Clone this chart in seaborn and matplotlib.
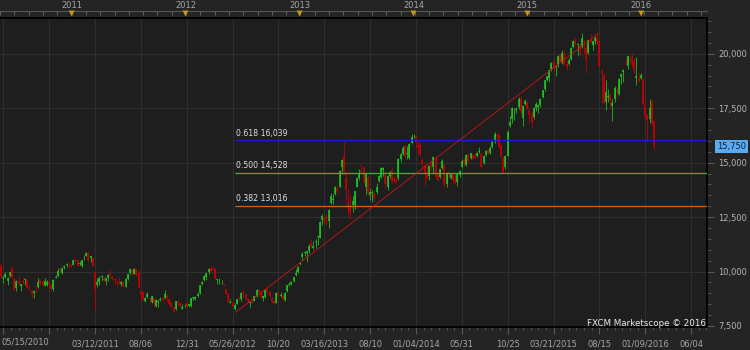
import numpy as np
import pandas as pd
import matplotlib
matplotlib.use("Agg")
import matplotlib.pyplot as plt
import seaborn as sns
from matplotlib.transforms import blended_transform_factory
from matplotlib.ticker import FixedLocator, MultipleLocator, FuncFormatter

# ---------------- data (weekly candles, week start dates) ----------------
start_date = "2010-05-15"

opens = [
    # 2010
    10300, 9700, 9760, 9550, 9800, 10150, 9650, 9250, 9550, 9350, 9550, 9600, 9600, 9200, 9100, 9000, 9250,
    9300, 9600, 9500, 9350, 9400, 9500, 9380, 9200, 9700, 9800, 10100, 9950, 10200, 10300, 10300, 10300,
    # 2011
    10300, 10500, 10550, 10350, 10250, 10600, 10700, 10850, 10600, 10600, 10000, 9400, 9500, 9750, 9700, 9550,
    9700, 9900, 9800, 9650, 9550, 9500, 9450, 9500, 9300, 9650, 9950, 10050, 9900, 10100, 9950, 9100, 9050,
    8650, 8850, 8800, 8600, 8800, 8400, 8600, 8700, 8800, 8800, 8900, 8750, 8600, 8350, 8300, 8600, 8550, 8300, 8450,
    # 2012
    8550, 8400, 8400, 8800, 8750, 8900, 9000, 9450, 9600, 9750, 10000, 10150, 10100, 10100, 9600, 9550, 9500,
    9400, 9200, 8950, 8550, 8550, 8300, 8500, 8800, 8750, 9050, 8950, 8750, 8550, 8650, 8650, 8900, 9150, 9050,
    8800, 8850, 9200, 9050, 8800, 8650, 8550, 9000, 8900, 8900, 8700, 9100, 9400, 9450, 9550, 9850, 10000, 10350,
    # 2013
    10650, 10850, 10850, 10950, 11250, 11100, 11350, 11600, 11550, 12350, 12400, 12500, 12300, 13150, 13300,
    13550, 13800, 13900, 14800, 15300, 14300, 13200, 13000, 13050, 13050, 13900, 14300, 14600, 14800, 13900,
    14300, 13500, 13600, 13600, 13650, 14150, 14350, 14650, 14450, 13900, 14400, 14650, 14300, 14200, 14300,
    15150, 15400, 15750, 15400, 15200, 15900, 16250,
    # 2014
    16200, 15800, 15800, 15100, 14900, 14450, 14400, 14900, 14800, 15200, 14450, 14350, 14750, 14900, 14000,
    14500, 14300, 14450, 14250, 14100, 14450, 14800, 15100, 14900, 15350, 15200, 15350, 15300, 15300, 15500,
    15400, 15000, 15350, 15600, 15450, 15700, 16000, 16250, 16250, 15750, 15200, 14800, 15300, 16700, 17000,
    17350, 17400, 17550, 17900, 17050, 17700, 17800,
    # 2015
    17400, 17300, 17100, 17500, 17550, 17650, 18000, 18400, 18800, 18900, 19300, 19600, 19400, 19500, 19950,
    19600, 20000, 19550, 19550, 19750, 20300, 20600, 20400, 20350, 20300, 20600, 20250, 20050, 20650, 20400,
    20600, 20700, 20600, 19200, 19000, 17800, 18000, 18100, 17600, 17900, 18300, 18150, 18950, 19150, 19600,
    19450, 19900, 19800, 19600, 18900, 18900, 18900,
    # 2016
    18800, 17600, 17200, 17000, 17800, 16900,
]

highs = [
    # 2010
    10330, 9800, 9960, 9750, 10000, 10250, 9700, 9600, 9800, 9450, 9700, 9700, 9650, 9400, 9150, 9150, 9300,
    9700, 9650, 9600, 9700, 9600, 9550, 9450, 9650, 9850, 10150, 10150, 10200, 10300, 10400, 10400, 10350,
    # 2011
    10550, 10600, 10550, 10500, 10550, 10750, 10900, 10880, 10700, 10600, 10000, 9700, 9800, 9850, 9800, 9700,
    9900, 10050, 9850, 9700, 9600, 9750, 9550, 9550, 9700, 9900, 10150, 10050, 10150, 10100, 10050, 9100, 9100,
    8850, 9050, 8800, 8900, 8800, 8750, 8700, 8850, 8850, 9150, 8950, 8800, 8600, 8400, 8650, 8700, 8600, 8500, 8500,
    # 2012
    8600, 8500, 8800, 8850, 8900, 9050, 9400, 9550, 9850, 9950, 10150, 10255, 10250, 10150, 9650, 9700, 9600,
    9450, 9200, 9000, 8750, 8650, 8550, 8750, 8850, 9050, 9150, 8950, 8800, 8600, 8700, 8900, 9200, 9200, 9100,
    8900, 9200, 9250, 9100, 8850, 8700, 9050, 9050, 9050, 8950, 9050, 9400, 9500, 9550, 9750, 10100, 10250, 10450,
    # 2013
    10900, 10950, 10950, 11250, 11500, 11400, 11500, 11650, 12300, 12650, 12600, 12650, 12850, 13600, 13550,
    13950, 13950, 14650, 15150, 15950, 14600, 13800, 13500, 13450, 13700, 14350, 14700, 14950, 14800, 14500,
    14400, 13850, 13750, 13650, 14050, 14450, 14800, 14800, 14600, 14450, 14600, 14800, 14400, 14350, 15200,
    15450, 15750, 15800, 15750, 15900, 16300, 16320,
    # 2014
    16200, 16000, 15950, 15200, 14950, 14850, 14900, 15100, 15300, 15300, 14550, 14700, 15150, 14950, 14550,
    14650, 14500, 14550, 14500, 14500, 14650, 15150, 15200, 15400, 15450, 15450, 15400, 15450, 15500, 15700,
    15500, 15350, 15600, 15600, 15750, 16000, 16400, 16350, 16350, 15850, 15300, 15350, 16500, 17150, 17550,
    17500, 17550, 18000, 18050, 17650, 17900, 17850,
    # 2015
    17400, 17350, 17550, 17800, 17700, 17950, 18350, 18800, 19000, 19300, 19600, 19800, 19500, 19950, 20050,
    20150, 20150, 19700, 19800, 20300, 20650, 20700, 20500, 20500, 20952, 20650, 20450, 20650, 20900, 20600,
    20800, 20946, 20650, 19300, 19100, 18800, 18400, 18200, 17900, 18500, 18450, 18900, 19100, 19300, 19800,
    19900, 20000, 20050, 19800, 19870, 19100, 19100,
    # 2016
    18950, 17900, 17250, 17900, 17900, 16900,
]

lows = [
    # 2010
    9700, 9460, 9700, 9380, 9750, 9700, 9100, 9100, 9400, 9100, 9450, 9400, 9250, 9100, 8800, 8800, 9050,
    9250, 9400, 9350, 9350, 9350, 9300, 9120, 9100, 9700, 9750, 9950, 9900, 10100, 10200, 10200, 10200,
    # 2011
    10300, 10450, 10250, 10300, 10200, 10550, 10700, 10450, 10450, 10250, 8227, 9300, 9400, 9550, 9500, 9400,
    9550, 9850, 9600, 9450, 9350, 9450, 9350, 9300, 9300, 9600, 9900, 9850, 9900, 9800, 9250, 8650, 8700,
    8600, 8800, 8550, 8550, 8350, 8350, 8350, 8650, 8600, 8750, 8600, 8450, 8350, 8150, 8250, 8450, 8350, 8300, 8350,
    # 2012
    8350, 8350, 8350, 8700, 8700, 8850, 8950, 9400, 9550, 9600, 9900, 10000, 10050, 9650, 9450, 9450, 9450,
    9350, 8950, 8600, 8550, 8400, 8238, 8500, 8650, 8650, 8850, 8700, 8600, 8350, 8550, 8650, 8850, 9050, 8800,
    8650, 8800, 8950, 8850, 8550, 8500, 8550, 8900, 8850, 8650, 8650, 9050, 9350, 9400, 9500, 9800, 9950, 10300,
    # 2013
    10550, 10700, 10450, 10850, 11100, 11050, 11100, 11200, 11550, 12150, 12200, 12150, 12000, 13100, 13100,
    13500, 13600, 13900, 14500, 14450, 13250, 12550, 12400, 12750, 12850, 13900, 14200, 14500, 14050, 13500,
    13450, 13300, 13200, 13200, 13550, 14100, 14300, 14400, 13850, 13750, 14300, 14050, 14100, 14050, 14200,
    15050, 15350, 15150, 15150, 15150, 15850, 16150,
    # 2014
    15650, 15300, 15300, 14650, 13995, 14250, 14200, 14600, 14500, 14300, 14150, 14300, 14700, 13900, 13900,
    14300, 14250, 14000, 14000, 13950, 14350, 14750, 14850, 14850, 15050, 15150, 15150, 15200, 15250, 15450,
    14750, 14950, 15300, 15400, 15400, 15650, 15900, 16000, 15650, 15250, 14529, 14700, 15300, 16650, 16800,
    16950, 17300, 17450, 17250, 16700, 17650, 17450,
    # 2015
    16800, 16600, 17000, 17350, 17300, 17550, 17950, 18300, 18750, 18700, 19200, 19200, 19000, 19400, 19600,
    19550, 19500, 19250, 19500, 19700, 20250, 20350, 19900, 19950, 20250, 20050, 19115, 20000, 20500, 20150,
    20450, 20450, 19400, 17750, 17700, 17400, 17800, 17500, 16900, 17800, 17950, 18100, 18600, 18700, 19500,
    19300, 19700, 19400, 19100, 18550, 18700, 18850,
    # 2016
    17650, 17050, 16000, 16800, 16750, 15600,
]

closes = [
    # 2010
    9784, 9762, 9901, 9705, 9995, 9737, 9203, 9585, 9408, 9431, 9537, 9642, 9253, 9179, 8991, 9114, 9239,
    9509, 9471, 9404, 9588, 9500, 9426, 9202, 9625, 9724, 10022, 10039, 10178, 10211, 10303, 10279, 10229,
    # 2011
    10541, 10499, 10275, 10360, 10543, 10605, 10842, 10526, 10693, 10254, 9207, 9536, 9708, 9768, 9591, 9682,
    9849, 9859, 9648, 9607, 9521, 9492, 9514, 9351, 9678, 9868, 10137, 9974, 10132, 9833, 9299, 8964, 8719,
    8798, 8950, 8737, 8864, 8560, 8700, 8605, 8747, 8678, 8988, 8801, 8514, 8374, 8160, 8643, 8536, 8401, 8395, 8455,
    # 2012
    8390, 8500, 8766, 8841, 8831, 8947, 9384, 9500, 9777, 9930, 10129, 10011, 10083, 9688, 9637, 9561, 9520,
    9380, 8953, 8611, 8593, 8440, 8460, 8721, 8798, 9007, 9021, 8725, 8670, 8567, 8555, 8891, 9162, 9070, 8839,
    8871, 9159, 9110, 8870, 8596, 8534, 9002, 8933, 8946, 8757, 9024, 9366, 9446, 9527, 9737, 9940, 10230, 10395,
    # 2013
    10801, 10913, 10926, 11191, 11153, 11173, 11385, 11606, 12283, 12560, 12338, 12398, 12833, 13485, 13316,
    13884, 13694, 14608, 15138, 14612, 13775, 12877, 12686, 13231, 13677, 14310, 14506, 14589, 14129, 14466,
    13615, 13650, 13660, 13389, 13860, 14404, 14742, 14760, 14024, 14404, 14561, 14088, 14201, 14086, 15165,
    15381, 15661, 15299, 15403, 15870, 16178, 16291,
    # 2014
    15913, 15734, 15391, 14915, 14462, 14313, 14865, 14841, 15274, 14327, 14224, 14696, 15063, 13960, 14516,
    14429, 14458, 14199, 14097, 14462, 14632, 15077, 14933, 15349, 15095, 15437, 15164, 15215, 15457, 15523,
    14778, 15318, 15539, 15425, 15669, 15948, 16321, 16229, 15709, 15300, 14533, 15291, 16414, 16880, 17490,
    17357, 17459, 17921, 17371, 17621, 17819, 17450,
    # 2015
    17198, 16864, 17511, 17674, 17648, 17913, 18332, 18798, 18971, 19254, 19560, 19285, 19435, 19908, 19653,
    20020, 19531, 19379, 19733, 20264, 20563, 20461, 20407, 20174, 20706, 20539, 19780, 20650, 20544, 20585,
    20724, 20519, 19436, 19136, 17792, 18264, 18070, 17880, 17725, 18438, 18291, 18826, 19083, 19265, 19597,
    19879, 19883, 19504, 19230, 18986, 18769, 19034,
    # 2016
    17698, 17147, 16959, 17518, 16820, 15750,
]

axis_dates = ["2011-03-12", "2011-08-06", "2011-12-31", "2012-05-26", "2012-10-20", "2013-03-16",
              "2013-08-10", "2014-01-04", "2014-05-31", "2014-10-25", "2015-03-21", "2015-08-15",
              "2016-01-09", "2016-06-04"]
axis_labels = ["03/12/2011", "08/06", "12/31", "05/26/2012", "10/20", "03/16/2013", "08/10",
               "01/04/2014", "05/31", "10/25", "03/21/2015", "08/15", "01/09/2016", "06/04"]
first_label = "05/15/2010"
unlabeled_grid_dates = ["2010-05-22", "2010-10-16"]
years = [2011, 2012, 2013, 2014, 2015, 2016]
y_ticks = [7500, 10000, 12500, 15000, 17500, 20000]

fib_ratios = [0.618, 0.500, 0.382]
fib_values = [16039, 14528, 13016]
fib_colors = ["#1a1ae8", "#3cb43c", "#c8661e"]
trend_dates = ["2012-06-04", "2015-08-12"]
trend_values = [8124, 20932]
last_price = 15750
watermark = "FXCM Marketscope \u00a9 2016"

# ---------------- styling ----------------
FIG_BG = "#242424"
AX_BG = "#1e1e1e"
GRID = "#2f2f2f"
GREEN = "#1ec81e"
RED = "#c80000"
TICK = "#5a5a5a"
LABEL = "#a6a6a6"

sns.set_theme(style="dark", rc={"axes.facecolor": AX_BG, "figure.facecolor": FIG_BG})
plt.rcParams["font.family"] = ["DejaVu Sans"]

t0 = pd.Timestamp(start_date)


def wk(d):
    return (pd.Timestamp(d) - t0).days / 7.0


df = pd.DataFrame({"open": opens, "high": highs, "low": lows, "close": closes})
df["date"] = pd.date_range(start_date, periods=len(df), freq="7D")
df["x"] = (df["date"] - t0).dt.days / 7.0
df["up"] = df["close"] >= df["open"]

fig = plt.figure(figsize=(7.5, 3.5), dpi=100, facecolor=FIG_BG)
ax = fig.add_axes([0.0, 1 - 327 / 350, 707 / 750, 309 / 350])
ax.set_facecolor(AX_BG)

ax.set_xlim(-0.5, 323.3)
ax.set_ylim(7454, 21640)

# candles
colors = np.where(df["up"], GREEN, RED)
ax.vlines(df["x"], df["low"], df["high"], colors=colors, lw=0.55, zorder=3)
body_lo = np.minimum(df["open"], df["close"])
body_hi = np.maximum(np.maximum(df["open"], df["close"]), body_lo + 35)
ax.vlines(df["x"], body_lo, body_hi, colors=colors, lw=1.15, zorder=3, capstyle="butt")

# fibonacci levels
x0 = wk(trend_dates[0])
for r, v, c in zip(fib_ratios, fib_values, fib_colors):
    ax.hlines(v, x0, 323.3, color=c, lw=0.9, zorder=4)
    ax.annotate(f"{r:.3f} {v:,}", (x0, v), xytext=(0.5, 1.8), textcoords="offset points",
                fontsize=5.6, color="#e2e2e2", ha="left", va="bottom", zorder=6)

# trend line
trend_df = pd.DataFrame({"x": [wk(d) for d in trend_dates], "y": trend_values})
sns.lineplot(data=trend_df, x="x", y="y", ax=ax, color="#d41414", lw=0.55, zorder=5)
ax.set_xlabel("")
ax.set_ylabel("")

# x axis (bottom)
grid_x = [wk(d) for d in unlabeled_grid_dates] + [wk(d) for d in axis_dates]
ax.xaxis.set_major_locator(FixedLocator(grid_x))
ax.set_xticklabels([""] * len(unlabeled_grid_dates) + axis_labels)
ax.xaxis.set_minor_locator(FixedLocator(np.arange(1, 324, 3.5)))
ax.tick_params(axis="x", which="major", bottom=True, top=False, length=5, width=0.8, color=TICK,
               labelsize=6, labelcolor=LABEL, pad=4)
ax.tick_params(axis="x", which="minor", bottom=True, top=False, length=2.5, width=0.6, color=TICK)
ax.text(0.002, (327 - 342) / 309, first_label, transform=ax.transAxes, ha="left", va="center",
        fontsize=6, color=LABEL)

# y axis (right)
ax.yaxis.tick_right()
ax.yaxis.set_major_locator(FixedLocator(y_ticks))
ax.yaxis.set_minor_locator(MultipleLocator(500))
ax.yaxis.set_major_formatter(FuncFormatter(lambda v, p: f"{v:,.0f}"))
ax.tick_params(axis="y", which="major", right=True, left=False, length=5, width=0.8, color=TICK,
               labelsize=6, labelcolor="#b4b4b4", pad=3)
ax.tick_params(axis="y", which="minor", right=True, left=False, length=3, width=0.6, color=TICK)

ax.grid(True, which="major", color=GRID, lw=0.8)
ax.set_axisbelow(True)

for s in ["top", "bottom", "right"]:
    ax.spines[s].set_visible(True)
    ax.spines[s].set_color("#000000")
    ax.spines[s].set_linewidth(1.3)
ax.spines["left"].set_visible(False)

# last price tag
ty = blended_transform_factory(ax.transAxes, ax.transData)
ax.text(1.0145, last_price, f"{last_price:,}", transform=ty, ha="left", va="center", fontsize=6,
        color="#0c1e3a", zorder=7, clip_on=False,
        bbox=dict(boxstyle="square,pad=0.22", fc="#5aaaf0", ec="none"))

# top time strip
tt = blended_transform_factory(ax.transData, ax.transAxes)
top_line = (327 - 11) / 309
ax.plot([0, 1], [top_line, top_line], transform=ax.transAxes, color="#555555", lw=0.8, clip_on=False)
year_x = [wk(f"{y}-01-01") - 0.7 for y in years]
top_ticks = np.arange(year_x[0] - 6.55 * 5, 323, 6.55)
ax.vlines(top_ticks, (327 - 15) / 309, top_line, transform=tt, colors="#606060", lw=0.7, clip_on=False)
ax.scatter(year_x, [(327 - 13.5) / 309] * len(years), transform=tt, marker="v", s=18,
           color="#c8961e", edgecolors="none", clip_on=False, zorder=8)
for yx, yr in zip(year_x, years):
    ax.text(yx, (327 - 5) / 309, str(yr), transform=tt, ha="center", va="center", fontsize=6,
            color=LABEL, clip_on=False)

# watermark
ax.text(0.998, (327 - 323) / 309, watermark, transform=ax.transAxes, ha="right", va="center",
        fontsize=6.3, color="#e8e8e8", zorder=7)

fig.savefig("out.png", dpi=100, facecolor=FIG_BG)
